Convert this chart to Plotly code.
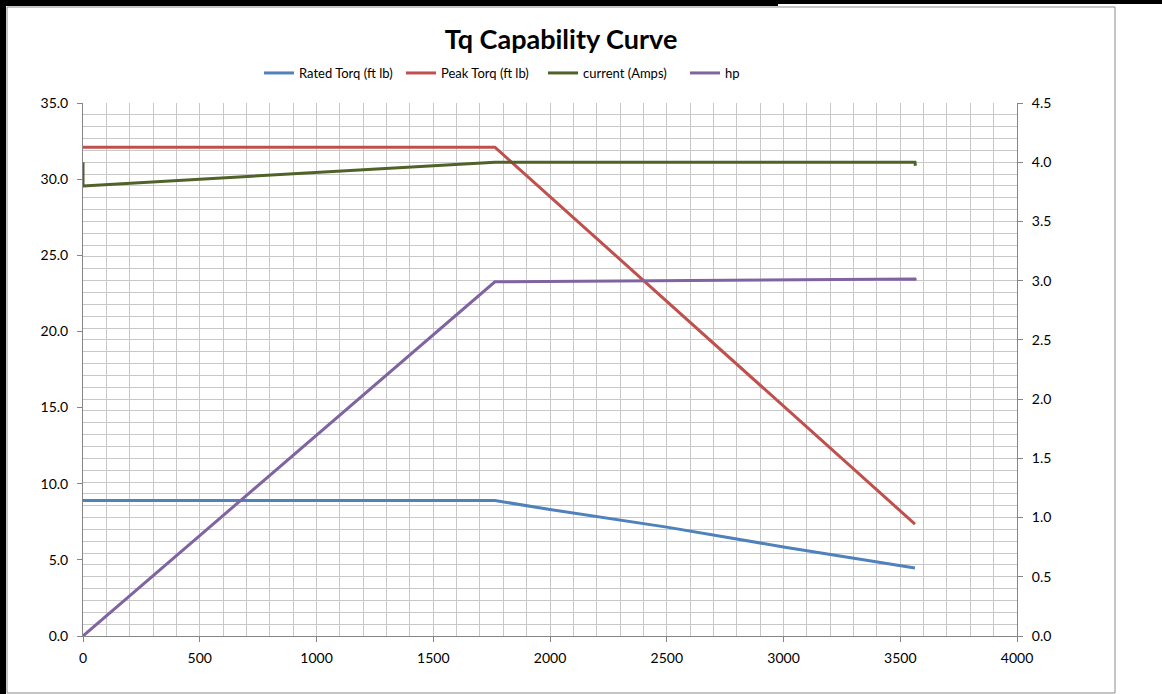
import plotly.graph_objects as go

# ---- data ----
rated_rpm = [0, 1764, 2000, 2500, 3000, 3563]
rated_torque = [8.9, 8.9, 8.3, 7.15, 5.85, 4.47]

peak_rpm = [0, 1764, 3563]
peak_torque = [32.1, 32.1, 7.35]

current_rpm = [0, 0, 1764, 3563, 3565]
current_amps = [4.0, 3.8, 4.0, 4.0, 3.97]

hp_rpm = [0, 1764, 3563, 3565]
hp_vals = [0.0, 2.99, 3.015, 3.0]

title_text = "Tq Capability Curve"
names = ["Rated Torq (ft lb)", "Peak Torq (ft lb)", "current (Amps)", "hp"]
colors = ["#4F81BD", "#C0504D", "#4F6228", "#8064A2"]

FONT = "Lato"
W, H = 1162, 694
L, R, T, B = 83, 1017, 103, 636  # plot area in pixels

fig = go.Figure()
fig.add_trace(go.Scatter(x=rated_rpm, y=rated_torque, name=names[0], mode="lines",
                         line=dict(color=colors[0], width=3)))
fig.add_trace(go.Scatter(x=peak_rpm, y=peak_torque, name=names[1], mode="lines",
                         line=dict(color=colors[1], width=3)))
fig.add_trace(go.Scatter(x=current_rpm, y=current_amps, name=names[2], mode="lines",
                         line=dict(color=colors[2], width=3), yaxis="y2"))
fig.add_trace(go.Scatter(x=hp_rpm, y=hp_vals, name=names[3], mode="lines",
                         line=dict(color=colors[3], width=3), yaxis="y2"))


def px(x):
    return (x - L) / (R - L)


def py(y):
    return (B - y) / (B - T)


shapes = [
    # chart-area border
    dict(type="rect", xref="paper", yref="paper", x0=px(7), x1=px(1115), y0=py(693), y1=py(7),
         line=dict(color="#8c8c8c", width=1), fillcolor="rgba(0,0,0,0)", layer="below"),
    # black sheet edges
    dict(type="rect", xref="paper", yref="paper", x0=px(0), x1=px(6), y0=py(694), y1=py(0),
         line=dict(width=0), fillcolor="black"),
    dict(type="rect", xref="paper", yref="paper", x0=px(0), x1=px(778), y0=py(6), y1=py(0),
         line=dict(width=0), fillcolor="black"),
    dict(type="rect", xref="paper", yref="paper", x0=px(778), x1=px(1162), y0=py(4), y1=py(0),
         line=dict(width=0), fillcolor="black"),
]

grid_color = "#c8c8c8"
axis_color = "#868686"
tickfont = dict(family=FONT, size=14, color="black")

fig.update_layout(
    width=W, height=H,
    margin=dict(l=L, r=W - R, t=T, b=H - B),
    paper_bgcolor="white", plot_bgcolor="white",
    font=dict(family=FONT, size=14, color="black"),
    title=dict(text="<b>" + title_text + "</b>", x=px(561), xanchor="center", xref="paper",
               y=1 - 40 / H, yanchor="middle", font=dict(family=FONT, size=27, color="black")),
    showlegend=True,
    legend=dict(orientation="h", x=px(259), xanchor="left", y=py(73), yanchor="middle",
                font=dict(family=FONT, size=13, color="black"), bgcolor="rgba(0,0,0,0)",
                itemwidth=30, tracegroupgap=0, entrywidth=97, entrywidthmode="pixels"),
    shapes=shapes,
    xaxis=dict(range=[0, 4000], dtick=500, tick0=0, showgrid=True, gridcolor=grid_color, gridwidth=1,
               minor=dict(dtick=100, showgrid=True, gridcolor=grid_color, gridwidth=1),
               showline=True, linecolor=axis_color, linewidth=1,
               ticks="outside", ticklen=5, tickcolor=axis_color, tickfont=tickfont,
               zeroline=False, fixedrange=True, ticklabelstandoff=4),
    yaxis=dict(range=[0, 35], dtick=5, tick0=0, tickformat=".1f", showgrid=False,
               showline=True, linecolor=axis_color, linewidth=1,
               ticks="outside", ticklen=5, tickcolor=axis_color, tickfont=tickfont,
               zeroline=False, fixedrange=True, ticklabelstandoff=6),
    yaxis2=dict(range=[0, 4.5], dtick=0.5, tick0=0, tickformat=".1f", overlaying="y", side="right",
                showgrid=True, gridcolor=grid_color, gridwidth=1,
                minor=dict(dtick=0.1, showgrid=True, gridcolor=grid_color, gridwidth=1),
                showline=True, linecolor=axis_color, linewidth=1,
                ticks="outside", ticklen=5, tickcolor=axis_color, tickfont=tickfont,
                zeroline=False, fixedrange=True, ticklabelstandoff=6),
)

fig.write_html("out.html", config={"displayModeBar": False, "staticPlot": True},
               post_script="document.body.style.margin='0';document.body.style.overflow='hidden';")
